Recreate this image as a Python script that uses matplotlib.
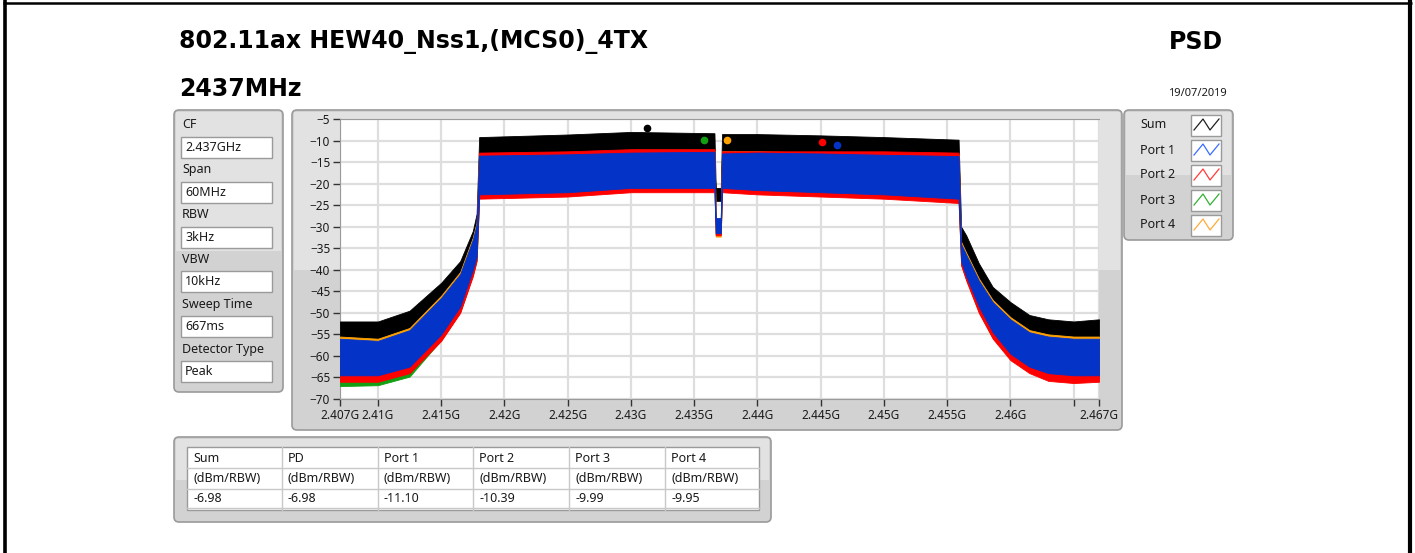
import matplotlib
matplotlib.use("Agg")
import matplotlib.pyplot as plt
from matplotlib.patches import FancyBboxPatch, Rectangle
from matplotlib import ticker

W, H = 1415, 553

# spectrum envelopes (GHz / dBm)
FREQ = [2.407, 2.410, 2.4125, 2.415, 2.4165, 2.4175, 2.4178, 2.4180, 2.425, 2.430,
        2.4366, 2.4367, 2.4371, 2.4372, 2.440, 2.445, 2.450, 2.4559, 2.4561, 2.4565,
        2.4575, 2.4586, 2.460, 2.4615, 2.463, 2.465, 2.467]
SUM_HI = [-52.0, -52.0, -49.5, -43.0, -38.0, -31.0, -27.0, -9.2, -8.6, -8.0,
          -8.3, -21.0, -21.0, -8.5, -8.5, -8.8, -9.2, -9.8, -30.0, -32.0,
          -38.5, -44.0, -47.5, -50.5, -51.5, -52.0, -51.5]
SUM_LO = [-57.0, -57.0, -55.0, -48.0, -42.0, -34.0, -31.0, -14.0, -14.0, -13.5,
          -13.5, -24.0, -24.0, -14.0, -14.0, -14.0, -14.0, -14.5, -35.0, -37.0,
          -43.0, -48.0, -52.0, -55.0, -56.0, -56.5, -56.5]
P1_HI = [-56.0, -56.5, -54.0, -46.5, -41.0, -33.0, -29.5, -13.5, -13.2, -12.8,
         -12.6, -28.0, -28.0, -13.0, -12.8, -13.0, -13.3, -13.6, -34.0, -36.5,
         -42.5, -47.5, -51.5, -54.5, -55.5, -56.0, -56.0]
P1_LO = [-64.5, -64.5, -62.5, -55.0, -48.5, -40.0, -37.0, -22.5, -22.0, -21.0,
         -21.0, -31.5, -31.5, -21.0, -21.5, -22.0, -22.5, -23.5, -38.0, -41.5,
         -48.5, -54.5, -59.5, -62.5, -64.0, -64.5, -64.5]
P2_HI = [-57.0, -57.5, -55.0, -47.5, -42.0, -34.0, -30.0, -12.8, -12.5, -12.0,
         -12.0, -28.5, -28.5, -12.5, -12.5, -12.5, -12.5, -12.8, -35.0, -37.5,
         -43.5, -48.5, -52.5, -55.5, -56.5, -57.0, -57.0]
P2_LO = [-66.0, -66.0, -64.0, -56.5, -50.0, -41.5, -38.0, -23.5, -23.0, -22.0,
         -22.0, -32.0, -32.0, -22.0, -22.5, -23.0, -23.5, -24.5, -39.0, -42.5,
         -50.0, -56.0, -61.0, -64.0, -65.8, -66.3, -66.0]
P3_HI = [-56.5, -57.0, -54.5, -47.0, -41.5, -33.5, -30.0, -13.2, -12.8, -12.5,
         -12.5, -28.5, -28.5, -12.8, -12.8, -13.0, -13.0, -13.2, -34.5, -37.0,
         -43.0, -48.0, -52.0, -55.0, -56.0, -56.5, -56.5]
P3_LO = [-67.0, -66.8, -64.8, -56.3, -49.8, -41.2, -37.8, -23.2, -22.8, -21.8,
         -21.6, -31.8, -31.8, -21.6, -22.2, -22.7, -23.2, -24.0, -38.8, -42.2,
         -49.8, -55.8, -60.5, -63.5, -65.0, -65.5, -65.5]
P4_HI = [-55.5, -56.0, -53.5, -46.0, -40.5, -32.5, -29.0, -13.0, -12.8, -12.5,
         -12.3, -28.0, -28.0, -12.5, -12.5, -12.8, -13.0, -13.2, -33.5, -36.0,
         -42.0, -47.0, -51.0, -54.0, -55.0, -55.5, -55.5]
P4_LO = [-65.5, -65.3, -63.3, -55.8, -49.3, -40.8, -37.4, -22.9, -22.5, -21.5,
         -21.3, -32.3, -32.3, -21.3, -21.9, -22.4, -22.9, -23.8, -38.5, -42.0,
         -49.3, -55.2, -60.0, -63.0, -64.6, -65.0, -65.0]

SERIES = ["Sum", "Port 1", "Port 2", "Port 3", "Port 4"]
PEAK_FREQ = [2.4313, 2.4463, 2.4451, 2.4358, 2.4376]

TABLE_COLS = ["Sum", "PD", "Port 1", "Port 2", "Port 3", "Port 4"]
TABLE_VALUES = [-6.98, -6.98, -11.10, -10.39, -9.99, -9.95]
TABLE_UNIT = "(dBm/RBW)"

PARAM_NAMES = ["CF", "Span", "RBW", "VBW", "Sweep Time", "Detector Type"]
PARAM_VALUES = ["2.437GHz", "60MHz", "3kHz", "10kHz", "667ms", "Peak"]

X_TICKS = [2.407, 2.41, 2.415, 2.42, 2.425, 2.43, 2.435, 2.44, 2.445, 2.45,
           2.455, 2.46, 2.465, 2.467]
Y_TICKS = list(range(-70, -4, 5))

BAND_COLORS = {"Sum": "#000000", "Port 1": "#0433c8", "Port 2": "#ff0000",
               "Port 3": "#12a012", "Port 4": "#ffa200"}
LEGEND_COLORS = {"Sum": "#202020", "Port 1": "#3a6cff", "Port 2": "#ff3b3b",
                 "Port 3": "#34b034", "Port 4": "#ffaa3a"}

FONT = "Noto Sans"
TITLE_FONT = "DejaVu Sans"
TXT = "#1a1a1a"
SMALL = 9

fig = plt.figure(figsize=(W / 100, H / 100), dpi=100)
fig.patch.set_facecolor("white")

bg = fig.add_axes([0, 0, 1, 1])
bg.set_xlim(0, W)
bg.set_ylim(H, 0)
bg.axis("off")
bg.set_zorder(0)


def panel(x, y, w, h):
    bg.add_patch(FancyBboxPatch((x, y), w, h,
                                boxstyle="round,pad=0,rounding_size=5",
                                facecolor="#d2d2d2", edgecolor="#9a9a9a", lw=1.2))
    bg.add_patch(Rectangle((x + 2, y + 2), w - 4, h / 2 - 2,
                           facecolor="#e2e2e2", edgecolor="none"))


# outer frame
bg.plot([4.5, 4.5], [0, H], color="black", lw=2.6, solid_capstyle="butt")
bg.plot([1410, 1410], [0, H], color="black", lw=3.0, solid_capstyle="butt")
bg.plot([3, 1412], [3, 3], color="black", lw=1.8, solid_capstyle="butt")

# headings
bg.text(179, 42, "802.11ax HEW40_Nss1,(MCS0)_4TX", fontsize=17, fontweight="bold",
        family=TITLE_FONT, va="center", ha="left", color="black")
bg.text(179, 89, "2437MHz", fontsize=17, fontweight="bold",
        family=TITLE_FONT, va="center", ha="left", color="black")
bg.text(1223, 42, "PSD", fontsize=17, fontweight="bold",
        family=TITLE_FONT, va="center", ha="right", color="black")
bg.text(1227, 93, "19/07/2019", fontsize=8, family=FONT, va="center",
        ha="right", color=TXT)

# parameter panel
panel(174, 110, 109, 282)
for i, (name, val) in enumerate(zip(PARAM_NAMES, PARAM_VALUES)):
    y0 = 125 + i * 44.8
    bg.text(182, y0, name, fontsize=SMALL, family=FONT, va="center", color=TXT)
    bg.add_patch(Rectangle((181, y0 + 12), 91, 21, facecolor="white",
                           edgecolor="#9a9a9a", lw=1))
    bg.text(185, y0 + 22.5, val, fontsize=SMALL, family=FONT, va="center", color=TXT)

# graph frame
panel(292, 110, 830, 320)

# legend panel
panel(1124, 110, 109, 130)
for i, name in enumerate(SERIES):
    yc = 125 + i * 25
    bg.text(1140, yc, name, fontsize=SMALL, family=FONT, va="center", color=TXT)
    bg.add_patch(Rectangle((1191, yc - 10), 30, 21, facecolor="white",
                           edgecolor="#9a9a9a", lw=1))
    bg.plot([1194, 1203, 1210, 1219], [yc + 5, yc - 6, yc + 5, yc - 6],
            color=LEGEND_COLORS[name], lw=0.9)

# result table
panel(174, 437, 597, 85)
col_x = [187, 282, 378, 473, 569, 665, 759]
row_y = [447, 468, 489, 508]
bg.add_patch(Rectangle((187, 447), 572, 63, facecolor="white",
                       edgecolor="#9a9a9a", lw=1))
for yy in row_y[1:]:
    bg.plot([187, 759], [yy, yy], color="#c8c8c8", lw=1)
for xx in col_x[1:-1]:
    bg.plot([xx, xx], [447, 510], color="#c8c8c8", lw=1)
for j, col in enumerate(TABLE_COLS):
    x0 = col_x[j] + 6
    bg.text(x0, 458, col, fontsize=SMALL, family=FONT, va="center", color=TXT)
    bg.text(x0, 479, TABLE_UNIT, fontsize=SMALL, family=FONT, va="center", color=TXT)
    bg.text(x0, 498.5, f"{TABLE_VALUES[j]:.2f}", fontsize=SMALL, family=FONT,
            va="center", color=TXT)

# spectrum graph
ax = fig.add_axes([340 / W, 1 - 399 / H, (1099 - 340) / W, (399 - 119) / H])
ax.set_zorder(1)
ax.set_facecolor("white")

bands = [("Sum", SUM_LO, SUM_HI), ("Port 4", P4_LO, P4_HI), ("Port 3", P3_LO, P3_HI),
         ("Port 2", P2_LO, P2_HI), ("Port 1", P1_LO, P1_HI)]
for name, lo, hi in bands:
    ax.fill_between(FREQ, lo, hi, color=BAND_COLORS[name], lw=0.6,
                    edgecolor=BAND_COLORS[name], zorder=3)

for name, f, v in zip(SERIES, PEAK_FREQ, [TABLE_VALUES[0]] + TABLE_VALUES[2:]):
    ax.plot(f, v, "o", ms=4.5, color=BAND_COLORS[name], zorder=5)

ax.set_xlim(2.407, 2.467)
ax.set_ylim(-70, -5)
ax.set_xticks(X_TICKS)
ax.xaxis.set_major_formatter(
    ticker.FuncFormatter(lambda v, pos: "" if abs(v - 2.465) < 1e-6 else f"{v:g}G"))
ax.set_yticks(Y_TICKS)
ax.grid(color="#dedede", lw=1.6, zorder=0)
ax.set_axisbelow(True)
ax.tick_params(direction="out", length=5, width=1, color="#333333",
               labelsize=8.5, labelcolor=TXT, pad=2)
for lab in ax.get_xticklabels() + ax.get_yticklabels():
    lab.set_family(FONT)
for side in ["left", "top", "bottom"]:
    ax.spines[side].set_color("#9a9a9a")
ax.spines["right"].set_visible(False)

fig.savefig("out.png", dpi=100, facecolor="white")
